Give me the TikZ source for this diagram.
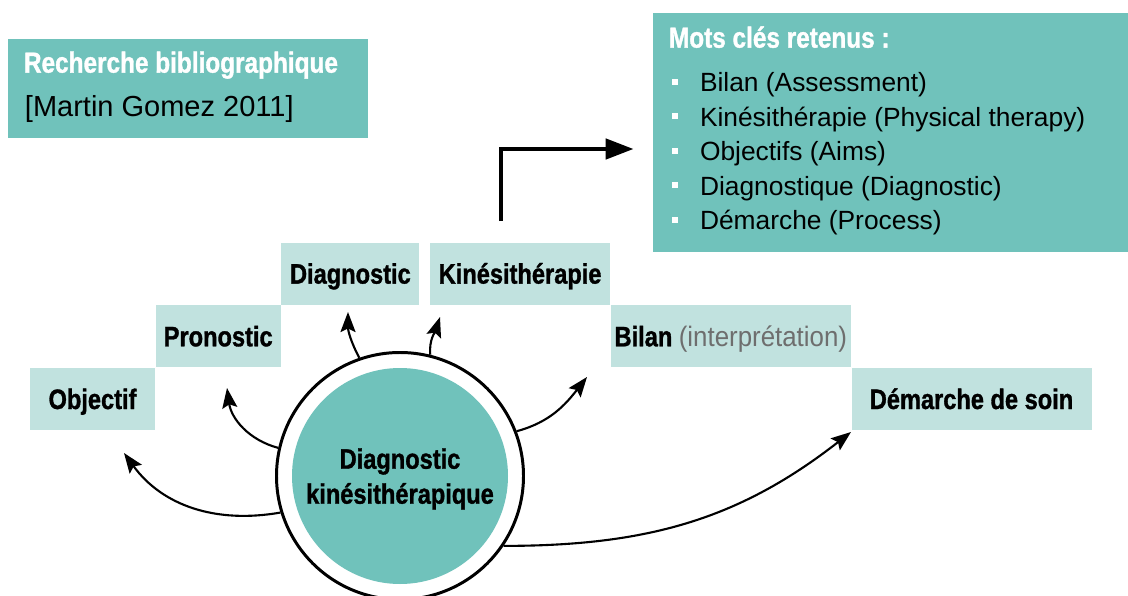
\documentclass[tikz,border=0pt]{standalone}
\usepackage{fontspec}
\setmainfont{Liberation Sans}
\newfontfamily\condfont[FakeStretch=0.84,FakeBold=1.2]{Liberation Sans Bold}
\newfontfamily\lightfont[FakeStretch=0.92]{Liberation Sans}
\usetikzlibrary{arrows.meta,positioning}

\definecolor{tealdark}{HTML}{70C2BB}
\definecolor{teallight}{HTML}{C1E2DF}
\definecolor{labelgray}{HTML}{6E6E6E}

\newcommand{\sqbullet}{\textcolor{white}{\rule[0.14cm]{0.12cm}{0.12cm}}\hspace{0.44cm}}

\tikzset{
  stepbox/.style={fill=teallight, inner sep=0pt, minimum height=1.24cm,
    text height=0.4cm, text depth=0pt, font=\condfont\fontsize{16}{19}\selectfont},
  infobox/.style={fill=tealdark, inner sep=0pt},
  infotitle/.style={anchor=base west, inner sep=0pt, text=white,
    font=\condfont\fontsize{16.5}{19}\selectfont},
  keyline/.style={anchor=base west, inner sep=0pt, font=\fontsize{15}{18}\selectfont},
  flow/.style={-{Stealth[length=4mm,width=3mm,inset=0.7mm]}, line width=1.2pt},
}

\begin{document}
\begin{tikzpicture}
    \useasboundingbox (0,0) rectangle (22.56,-11.92);

    % reference box
    \node[infobox, minimum width=7.2cm, minimum height=1.98cm] (biblio) at (3.76,-1.77) {};
    \node[infotitle] (bibtitle) at ([shift={(0.32,-0.68)}]biblio.north west) {Recherche bibliographique};
    \node[keyline, font=\fontsize{16.5}{19}\selectfont] (bibref) at ([shift={(0.34,-1.56)}]biblio.north west) {[Martin Gomez 2011]};

    % keywords box
    \node[infobox, minimum width=9.5cm, minimum height=4.78cm] (keys) at (17.81,-2.65) {};
    \node[infotitle] (keytitle) at ([shift={(0.32,-0.70)}]keys.north west) {Mots clés retenus :};
    \node[keyline] (kwa) at ([shift={(0.38,-1.58)}]keys.north west) {\sqbullet Bilan (Assessment)};
    \node[keyline] (kwb) at ([shift={(0.38,-2.27)}]keys.north west) {\sqbullet Kinésithérapie (Physical therapy)};
    \node[keyline] (kwc) at ([shift={(0.38,-2.96)}]keys.north west) {\sqbullet Objectifs (Aims)};
    \node[keyline] (kwd) at ([shift={(0.38,-3.65)}]keys.north west) {\sqbullet Diagnostique (Diagnostic)};
    \node[keyline] (kwe) at ([shift={(0.38,-4.34)}]keys.north west) {\sqbullet Démarche (Process)};

    % staircase of steps
    \node[stepbox, minimum width=2.5cm] (obj) at (1.85,-7.98) {Objectif};
    \node[stepbox, minimum width=2.5cm, above right=0cm and 0cm of obj] (prono) {Pronostic};
    \node[stepbox, minimum width=2.76cm, above right=0cm and 0cm of prono] (diag) {Diagnostic};
    \node[stepbox, minimum width=3.6cm, right=0.2cm of diag] (kine) {Kinésithérapie};
    \node[stepbox, minimum width=4.8cm, below right=0cm and 0cm of kine] (bilan)
      {Bilan {\lightfont\color{labelgray} (interprétation)}};
    \node[stepbox, minimum width=4.8cm, below right=0cm and 0cm of bilan] (soin) {Démarche de soin};

    % central circle
    \node[circle, draw, line width=1.7pt, fill=white, minimum size=4.94cm] (ring) at (8.0,-9.52) {};
    \node[circle, fill=tealdark, minimum size=4.32cm, align=center, text depth=0pt,
      font=\condfont\fontsize{16}{19.9}\selectfont] (core) at (ring.center)
      {Diagnostic\\kinésithérapique};

    % arrow tips
    \coordinate (objtip) at (2.48,-9.06);
    \coordinate (pronotip) at (4.54,-7.76);
    \coordinate (diagtip) at (6.96,-6.24);
    \coordinate (kinetip) at (8.80,-6.34);
    \coordinate (bilantip) at (11.74,-7.54);
    \coordinate (sointip) at (17.02,-8.64);

    \draw[flow] (ring.197) to[out=190, in=-54] (objtip);
    \draw[flow] (ring.167) to[out=165, in=-82] (pronotip);
    \draw[flow] (ring.109) to[out=118, in=-90] (diagtip);
    \draw[flow] (ring.76) to[out=95, in=-108] (kinetip);
    \draw[flow] (ring.21) to[out=15, in=-128] (bilantip);
    \draw[flow] (ring.-34) to[out=0, in=-142] (sointip);

    % link to the keywords
    \draw[line width=2.6pt, -{Triangle[length=5.6mm,width=4mm]}]
      ([shift={(-0.38,0.42)}]kine.north) |- ([shift={(-0.38,-0.33)}]keys.west);
\end{tikzpicture}
\end{document}
